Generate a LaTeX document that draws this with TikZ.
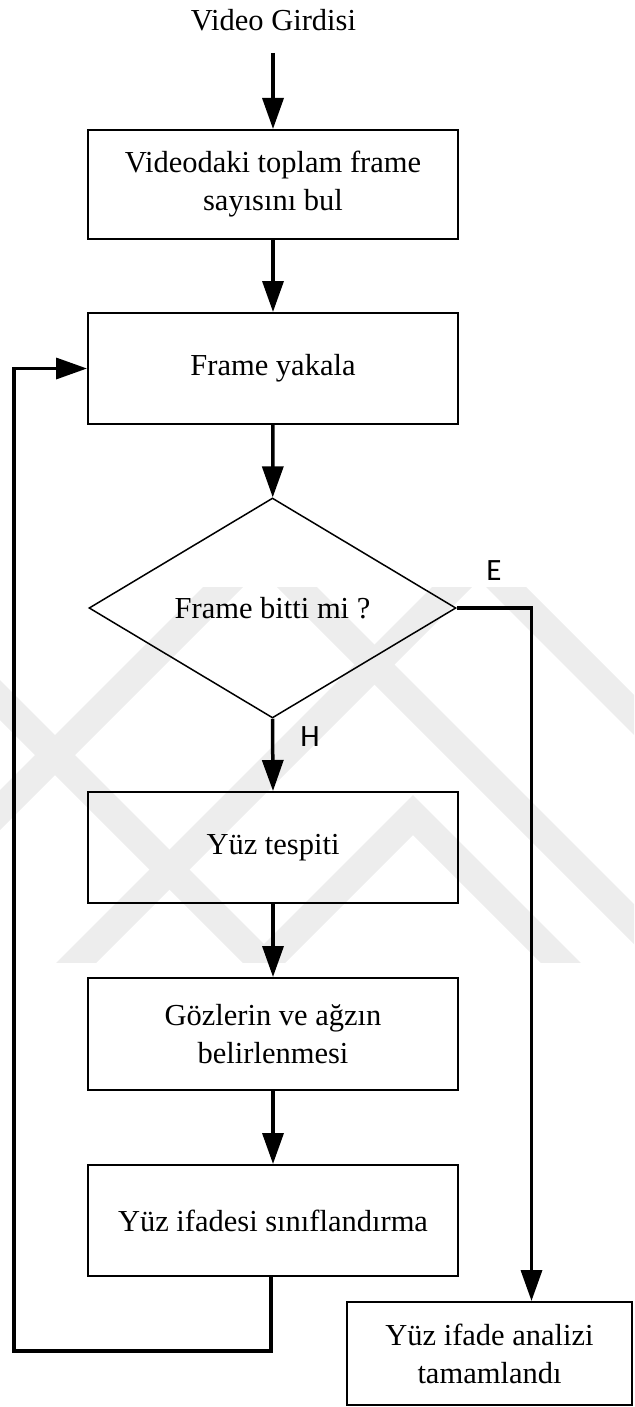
\documentclass[tikz,border=0pt]{standalone}
\usepackage{fontspec}
\setmainfont{Liberation Serif}
\newfontfamily\labelfont{Carlito}
\usetikzlibrary{arrows.meta,shapes.geometric}

\tikzset{
  stepbox/.style={draw, line width=2pt, minimum width=370pt, inner sep=0pt,
    align=center, font=\fontsize{30.5}{38}\selectfont},
  decision/.style={draw, line width=1.5pt, diamond, aspect=1.67, inner sep=0pt,
    minimum width=367pt, minimum height=220pt, font=\fontsize{30.5}{38}\selectfont},
  title/.style={font=\fontsize{30.5}{38}\selectfont, inner sep=0pt},
  branch/.style={font=\labelfont\fontsize{31}{34}\selectfont, inner sep=0pt},
  conn/.style={line width=3.5pt, line join=miter,
    -{Triangle[length=31pt,width=21pt]}},
  wmark/.style={fill=black!7, draw=none},
}

\begin{document}
\begin{tikzpicture}[x=1pt,y=-1pt]
\useasboundingbox (0,0) rectangle (634,1407);

% faint background emblem: nested chevrons
\begin{scope}
  \clip (0,587) rectangle (634,962);
  \foreach \ax/\ay in {413/795, 479/540, 260/530, -40/640}{
    \fill[wmark] (\ax,\ay) -- (\ax+500,\ay+500) -- (\ax+500,\ay+540)
      -- (\ax,\ay+40) -- (\ax-500,\ay+540) -- (\ax-500,\ay+500) -- cycle;
  }
\end{scope}

% process steps
\node[title] (in) at (273.5,20) {Video Girdisi};
\coordinate (start) at (273,53);
\node[stepbox, minimum height=109pt] (b1) at (273,184.5) {Videodaki toplam frame\\sayısını bul};
\node[stepbox, minimum height=111pt] (b2) at (273,368.5) {Frame yakala};
\node[decision] (dec) at (272.5,608) {Frame bitti mi ?};
\node[stepbox, minimum height=111pt] (b3) at (273,847.5) {Yüz tespiti};
\node[stepbox, minimum height=112pt] (b4) at (273,1034) {Gözlerin ve ağzın\\belirlenmesi};
\node[stepbox, minimum height=111pt] (b5) at (273,1220.5) {Yüz ifadesi sınıflandırma};
\node[stepbox, minimum width=285pt, minimum height=103pt] (b6) at (489.5,1353.5) {Yüz ifade analizi\\tamamlandı};

% branch labels
\node[branch] (lblE) at (494,571) {E};
\node[branch] (lblH) at (310,737) {H};

% helper points for the routed connectors
\coordinate (eturn) at (531.5,608);
\coordinate (loopA) at (271,1351);
\coordinate (loopB) at (14,1351);

% connectors
\draw[conn] (start) -- (b1);
\draw[conn] (b1) -- (b2);
\draw[conn] (b2) -- (dec);
\draw[conn] (dec.south) -- (b3.north);
\draw[conn] (b3) -- (b4);
\draw[conn] (b4) -- (b5);
\draw[conn] (dec.east) -- (eturn) -- (b6.north -| eturn);
\draw[conn] (b5.south -| loopA) -- (loopA) -- (loopB) |- (b2.west);
\end{tikzpicture}
\end{document}
